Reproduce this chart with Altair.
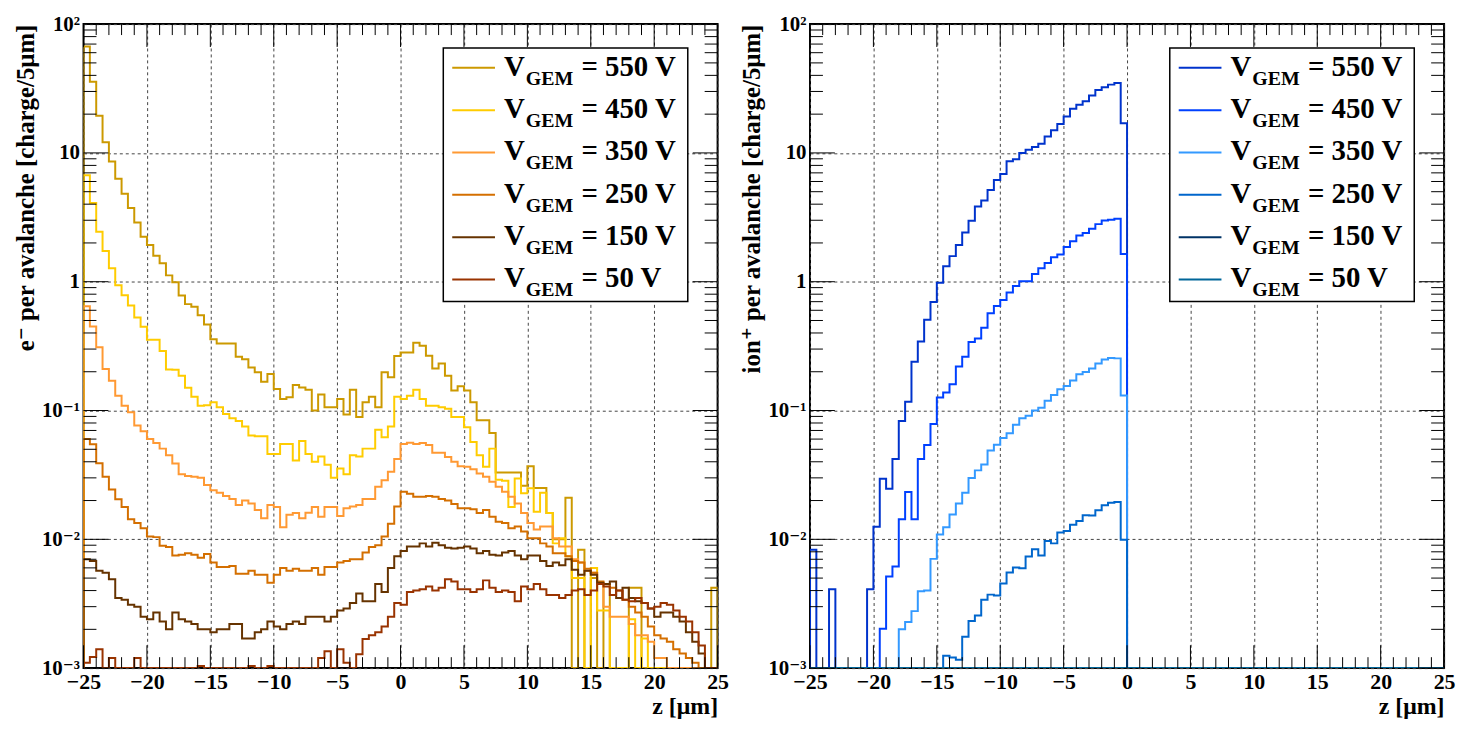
import altair as alt
import pandas as pd

FONT = "Liberation Serif, Times New Roman, DejaVu Serif, serif"
PANEL_W, PANEL_H = 638, 648
FLOOR = 1e-5  # empty bins: clamped to the bottom of the log axis

# ---------------- data ----------------
bin_edges = [-25 + 0.5 * i for i in range(101)]  # 100 bins of 0.5 um
series_labels = ["550 V", "450 V", "350 V", "250 V", "150 V", "50 V"]
electron_colors = ["#cc9900", "#ffcc00", "#ff9933", "#d46f00", "#663300", "#993300"]
ion_colors = ["#0033cc", "#0040ff", "#3399ff", "#0066cc", "#003366", "#006699"]

x_major = [-25, -20, -15, -10, -5, 0, 5, 10, 15, 20, 25]
x_minor = [v for v in range(-25, 26) if v % 5 != 0]
y_decades = [0.001, 0.01, 0.1, 1, 10, 100]
y_decade_labels = ["10⁻³", "10⁻²", "10⁻¹", "1", "10", "10²"]
y_minor = [m * d for d in [0.001, 0.01, 0.1, 1, 10] for m in range(2, 10)]

e_550 = [
    67.0, 35.7, 19.4, 12.1, 8.57, 6.3, 4.82, 3.74, 2.88, 2.23,
    1.93, 1.59, 1.39, 1.12, 0.99, 0.78, 0.67, 0.64, 0.55, 0.466,
    0.357, 0.331, 0.331, 0.331, 0.262, 0.25, 0.216, 0.198, 0.167, 0.192,
    0.147, 0.123, 0.127, 0.158, 0.151, 0.145, 0.10, 0.133, 0.106, 0.106,
    0.123, 0.093, 0.145, 0.089, 0.116, 0.128, 0.106, 0.198, 0.181, 0.265,
    0.282, 0.282, 0.336, 0.318, 0.266, 0.212, 0.232, 0.186, 0.143, 0.154,
    0.143, 0.116, 0.084, 0.084, 0.067, 0.033, 0.033, 0.033, 0.033, 0.026,
    0.037, 0.025, 0.025, 0.016, 0.010, 0.010, 0.021, 0.0, 0.0083, 0.0,
    0.005, 0.0, 0.0045, 0.0, 0.0, 0.0, 0.0042, 0.0042, 0.0, 0.0,
    0.0, 0.0, 0.0, 0.0, 0.0, 0.0, 0.0, 0.0, 0.0, 0.0042,
]
e_450 = [
    6.7, 4.08, 2.44, 1.73, 1.27, 0.94, 0.784, 0.655, 0.528, 0.448,
    0.355, 0.355, 0.29, 0.208, 0.207, 0.186, 0.15, 0.128, 0.109, 0.11,
    0.116, 0.106, 0.094, 0.087, 0.083, 0.075, 0.064, 0.063, 0.063, 0.046,
    0.046, 0.055, 0.055, 0.041, 0.058, 0.046, 0.040, 0.044, 0.038, 0.030,
    0.0355, 0.032, 0.045, 0.044, 0.0506, 0.0506, 0.071, 0.062, 0.075, 0.128,
    0.123, 0.13, 0.145, 0.123, 0.109, 0.109, 0.106, 0.103, 0.089, 0.089,
    0.074, 0.057, 0.045, 0.0366, 0.0506, 0.029, 0.0285, 0.0178, 0.0296, 0.0228,
    0.0249, 0.0164, 0.023, 0.016, 0.0093, 0.0102, 0.0074, 0.005, 0.005, 0.0,
    0.006, 0.0028, 0.0028, 0.0, 0.0, 0.0, 0.0024, 0.0, 0.0017, 0.0,
    0.0, 0.0, 0.0, 0.0, 0.0, 0.0, 0.0, 0.0, 0.0, 0.0,
]
e_350 = [
    0.644, 0.45, 0.31, 0.21, 0.17, 0.13, 0.109, 0.097, 0.0766, 0.069,
    0.060, 0.056, 0.0506, 0.045, 0.0388, 0.032, 0.031, 0.0306, 0.030, 0.0264,
    0.024, 0.023, 0.0217, 0.0206, 0.0185, 0.020, 0.019, 0.0169, 0.0146, 0.0185,
    0.0178, 0.0124, 0.0155, 0.016, 0.0146, 0.0161, 0.0178, 0.015, 0.0178, 0.0178,
    0.0152, 0.0174, 0.018, 0.0185, 0.0206, 0.0206, 0.0256, 0.0288, 0.0334, 0.042,
    0.055, 0.0563, 0.055, 0.056, 0.054, 0.047, 0.047, 0.0436, 0.040, 0.037,
    0.0366, 0.035, 0.0324, 0.0306, 0.028, 0.0256, 0.0234, 0.0214, 0.019, 0.016,
    0.0134, 0.0119, 0.0126, 0.0126, 0.0102, 0.0088, 0.0088, 0.007, 0.0066, 0.0057,
    0.0055, 0.0046, 0.003, 0.0025, 0.0025, 0.0025, 0.0022, 0.0018, 0.0018, 0.0016,
    0.0012, 0.0012, 0.0, 0.0, 0.0, 0.0, 0.0, 0.0, 0.0, 0.0,
]
e_250 = [
    0.060, 0.0547, 0.039, 0.0306, 0.0244, 0.0205, 0.0178, 0.0143, 0.0134, 0.0122,
    0.0105, 0.0104, 0.0089, 0.0087, 0.0075, 0.0076, 0.0078, 0.0076, 0.0072, 0.0077,
    0.0066, 0.0061, 0.0061, 0.0062, 0.0054, 0.0054, 0.0057, 0.0053, 0.0053, 0.0046,
    0.0053, 0.006, 0.0057, 0.0059, 0.0057, 0.0057, 0.006, 0.0053, 0.0061, 0.0061,
    0.0066, 0.0068, 0.007, 0.007, 0.0079, 0.0087, 0.009, 0.0105, 0.0132, 0.018,
    0.0234, 0.0226, 0.0214, 0.0214, 0.0217, 0.0214, 0.0206, 0.020, 0.0188, 0.0174,
    0.0174, 0.0171, 0.016, 0.0169, 0.015, 0.0137, 0.0134, 0.0122, 0.0126, 0.0115,
    0.0102, 0.0102, 0.0093, 0.0088, 0.0078, 0.0078, 0.0074, 0.0068, 0.0066, 0.0059,
    0.0055, 0.0047, 0.0045, 0.0042, 0.004, 0.0034, 0.003, 0.0027, 0.0025, 0.0021,
    0.0018, 0.0017, 0.0016, 0.0014, 0.0013, 0.0012, 0.0011, 0.0, 0.0, 0.0,
]
e_150 = [
    0.0070, 0.0068, 0.0057, 0.0055, 0.0049, 0.0035, 0.0034, 0.0031, 0.003, 0.0025,
    0.0024, 0.0027, 0.0023, 0.0020, 0.0027, 0.0024, 0.0023, 0.0022, 0.0020, 0.0020,
    0.0019, 0.0020, 0.0020, 0.0022, 0.0022, 0.0017, 0.0017, 0.0019, 0.0020, 0.0023,
    0.0021, 0.0020, 0.0022, 0.0023, 0.0022, 0.0025, 0.0025, 0.0025, 0.0023, 0.0025,
    0.0028, 0.0029, 0.0032, 0.0038, 0.0033, 0.0033, 0.0045, 0.0039, 0.006, 0.0074,
    0.0081, 0.0088, 0.0088, 0.0093, 0.0088, 0.0094, 0.009, 0.0086, 0.0085, 0.0086,
    0.0088, 0.0085, 0.0078, 0.0081, 0.0076, 0.0075, 0.0079, 0.0081, 0.0075, 0.007,
    0.0075, 0.0075, 0.0068, 0.0062, 0.0066, 0.0063, 0.007, 0.0058, 0.0053, 0.0057,
    0.0053, 0.0046, 0.0045, 0.0047, 0.0035, 0.0042, 0.0035, 0.0033, 0.0032, 0.0029,
    0.0025, 0.0027, 0.0027, 0.0025, 0.0023, 0.0019, 0.0016, 0.0013, 0.0, 0.0,
]
e_50 = [
    0.0011, 0.00122, 0.0014, 0.0, 0.0012, 0.0, 0.0, 0.0, 0.0012, 0.0,
    0.0, 0.0, 0.0, 0.0, 0.0, 0.0, 0.0, 0.0, 0.00104, 0.0,
    0.0, 0.0, 0.0, 0.0, 0.0, 0.0, 0.00104, 0.0, 0.0, 0.00104,
    0.0, 0.0, 0.0, 0.0, 0.0, 0.0, 0.0, 0.0012, 0.00135, 0.0,
    0.0014, 0.0011, 0.0, 0.00128, 0.00168, 0.0018, 0.0019, 0.0021, 0.0025, 0.0032,
    0.0031, 0.0039, 0.004, 0.0041, 0.0043, 0.004, 0.0042, 0.0049, 0.0047, 0.0041,
    0.0041, 0.0039, 0.0041, 0.0048, 0.0042, 0.0039, 0.004, 0.0039, 0.0033, 0.0043,
    0.0041, 0.0045, 0.0041, 0.0037, 0.0037, 0.0035, 0.0037, 0.004, 0.0041, 0.0037,
    0.004, 0.0045, 0.0043, 0.0037, 0.004, 0.0034, 0.0033, 0.0035, 0.0032, 0.0029,
    0.003, 0.0032, 0.0031, 0.0028, 0.0025, 0.0023, 0.0019, 0.0015, 0.0, 0.0,
]

ion_550 = [
    0.0083, 0.0, 0.0, 0.0041, 0.0, 0.0, 0.0, 0.0, 0.0, 0.0041,
    0.0125, 0.0295, 0.0247, 0.042, 0.083, 0.117, 0.239, 0.343, 0.506, 0.697,
    0.98, 1.32, 1.58, 1.93, 2.41, 2.97, 3.83, 4.27, 5.15, 6.15,
    6.85, 8.62, 8.94, 10.0, 10.6, 11.1, 11.8, 13.4, 15.0, 16.8,
    19.2, 22.0, 23.7, 25.2, 27.9, 30.8, 32.3, 33.9, 34.9, 17.0,
    0.0, 0.0, 0.0, 0.0, 0.0, 0.0, 0.0, 0.0, 0.0, 0.0,
    0.0, 0.0, 0.0, 0.0, 0.0, 0.0, 0.0, 0.0, 0.0, 0.0,
    0.0, 0.0, 0.0, 0.0, 0.0, 0.0, 0.0, 0.0, 0.0, 0.0,
    0.0, 0.0, 0.0, 0.0, 0.0, 0.0, 0.0, 0.0, 0.0, 0.0,
    0.0, 0.0, 0.0, 0.0, 0.0, 0.0, 0.0, 0.0, 0.0, 0.0,
]
ion_450 = [
    0.0, 0.0, 0.0, 0.0, 0.0, 0.0, 0.0, 0.0, 0.0, 0.0,
    0.0, 0.00202, 0.00515, 0.00615, 0.0143, 0.0233, 0.0143, 0.042, 0.054, 0.0785,
    0.126, 0.138, 0.16, 0.22, 0.262, 0.34, 0.363, 0.44, 0.57, 0.649,
    0.722, 0.823, 0.927, 1.01, 1.01, 1.15, 1.27, 1.4, 1.55, 1.63,
    1.86, 2.06, 2.28, 2.39, 2.58, 2.80, 2.99, 3.03, 3.08, 1.64,
    0.0, 0.0, 0.0, 0.0, 0.0, 0.0, 0.0, 0.0, 0.0, 0.0,
    0.0, 0.0, 0.0, 0.0, 0.0, 0.0, 0.0, 0.0, 0.0, 0.0,
    0.0, 0.0, 0.0, 0.0, 0.0, 0.0, 0.0, 0.0, 0.0, 0.0,
    0.0, 0.0, 0.0, 0.0, 0.0, 0.0, 0.0, 0.0, 0.0, 0.0,
    0.0, 0.0, 0.0, 0.0, 0.0, 0.0, 0.0, 0.0, 0.0, 0.0,
]
ion_350 = [
    0.0, 0.0, 0.0, 0.0, 0.0, 0.0, 0.0, 0.0, 0.0, 0.0,
    0.0, 0.0, 0.0, 0.0, 0.002, 0.00228, 0.00277, 0.00395, 0.004, 0.00705,
    0.0109, 0.0124, 0.0156, 0.019, 0.023, 0.0299, 0.0343, 0.0381, 0.0489, 0.0543,
    0.0612, 0.0665, 0.0775, 0.0872, 0.091, 0.1, 0.105, 0.119, 0.132, 0.146,
    0.155, 0.171, 0.191, 0.199, 0.212, 0.232, 0.249, 0.256, 0.254, 0.131,
    0.0, 0.0, 0.0, 0.0, 0.0, 0.0, 0.0, 0.0, 0.0, 0.0,
    0.0, 0.0, 0.0, 0.0, 0.0, 0.0, 0.0, 0.0, 0.0, 0.0,
    0.0, 0.0, 0.0, 0.0, 0.0, 0.0, 0.0, 0.0, 0.0, 0.0,
    0.0, 0.0, 0.0, 0.0, 0.0, 0.0, 0.0, 0.0, 0.0, 0.0,
    0.0, 0.0, 0.0, 0.0, 0.0, 0.0, 0.0, 0.0, 0.0, 0.0,
]
ion_250 = [
    0.0, 0.0, 0.0, 0.0, 0.0, 0.0, 0.0, 0.0, 0.0, 0.0,
    0.0, 0.0, 0.0, 0.0, 0.0, 0.0, 0.0, 0.0, 0.0, 0.0,
    0.0, 0.00125, 0.00121, 0.00116, 0.00175, 0.00232, 0.00256, 0.0034, 0.00372, 0.00367,
    0.00453, 0.00553, 0.00604, 0.00595, 0.00734, 0.00837, 0.0075, 0.0097, 0.0093, 0.0113,
    0.0116, 0.013, 0.0139, 0.0154, 0.0153, 0.0168, 0.0184, 0.0192, 0.0195, 0.00993,
    0.0, 0.0, 0.0, 0.0, 0.0, 0.0, 0.0, 0.0, 0.0, 0.0,
    0.0, 0.0, 0.0, 0.0, 0.0, 0.0, 0.0, 0.0, 0.0, 0.0,
    0.0, 0.0, 0.0, 0.0, 0.0, 0.0, 0.0, 0.0, 0.0, 0.0,
    0.0, 0.0, 0.0, 0.0, 0.0, 0.0, 0.0, 0.0, 0.0, 0.0,
    0.0, 0.0, 0.0, 0.0, 0.0, 0.0, 0.0, 0.0, 0.0, 0.0,
]
ion_150 = [0.0] * 100  # no entries above the axis minimum
ion_50 = [0.0] * 100

electron_series = [e_550, e_450, e_350, e_250, e_150, e_50]
ion_series = [ion_550, ion_450, ion_350, ion_250, ion_150, ion_50]


def step_frame(all_values):
    rows = []
    for label, vals in zip(series_labels, all_values):
        pts = [(bin_edges[0], 0.0)]
        pts += [(bin_edges[k], v) for k, v in enumerate(vals)]
        pts += [(bin_edges[-1], vals[-1]), (bin_edges[-1], 0.0)]
        for i, (z, v) in enumerate(pts):
            rows.append({"series": label, "z": z, "v": v if v > 0 else FLOOR, "i": i})
    return pd.DataFrame(rows)


def label_expr():
    parts = []
    for val, lab in zip(y_decades[:-1], y_decade_labels[:-1]):
        parts.append(f"datum.value < {val * 3} ? '{lab}' : ")
    return "".join(parts) + f"'{y_decade_labels[-1]}'"


AX = dict(
    labelFont=FONT, titleFont=FONT, labelFontWeight="bold", titleFontWeight="bold",
    labelColor="black", titleColor="black", ticks=False, domain=False,
    grid=True, gridColor="#444444", gridDash=[3, 3], gridWidth=1, gridOpacity=1,
    labelOverlap=False, labelFlush=False,
)


def panel(all_values, colors, ytitle):
    x_scale = alt.Scale(domain=[-25, 25], nice=False, zero=False)
    y_scale = alt.Scale(type="log", domain=[1e-3, 1e2], nice=False, clamp=True)
    x_axis = alt.Axis(
        values=x_major, title="z [μm]", titleAnchor="end", titleFontSize=24,
        titlePadding=2, labelFontSize=22, labelPadding=4, format="d", **AX,
    )
    y_axis = alt.Axis(
        values=y_decades, title=ytitle, titleAnchor="end", titleFontSize=25,
        titlePadding=3, labelFontSize=21, labelPadding=4, labelExpr=label_expr(), **AX,
    )

    def X(f):
        return alt.X(f"{f}:Q", scale=x_scale, axis=x_axis)

    def Y(f):
        return alt.Y(f"{f}:Q", scale=y_scale, axis=y_axis)

    color = alt.Color("series:N", scale=alt.Scale(domain=series_labels, range=colors), legend=None)

    lines = alt.Chart(step_frame(all_values)).mark_line(
        interpolate="step-after", strokeWidth=2, clip=True
    ).encode(x=X("z"), y=Y("v"), color=color, order="i:Q")

    xmaj = pd.DataFrame({"z": x_major})
    xmin = pd.DataFrame({"z": x_minor})
    ymaj = pd.DataFrame({"v": y_decades})
    ymin = pd.DataFrame({"v": y_minor})
    tick = dict(color="black", strokeWidth=1)
    ticks = [
        alt.Chart(xmaj).mark_rule(**tick).encode(x=X("z"), y=alt.value(PANEL_H), y2=alt.value(PANEL_H - 23)),
        alt.Chart(xmin).mark_rule(**tick).encode(x=X("z"), y=alt.value(PANEL_H), y2=alt.value(PANEL_H - 11)),
        alt.Chart(xmaj).mark_rule(**tick).encode(x=X("z"), y=alt.value(0), y2=alt.value(23)),
        alt.Chart(xmin).mark_rule(**tick).encode(x=X("z"), y=alt.value(0), y2=alt.value(11)),
        alt.Chart(ymaj).mark_rule(**tick).encode(y=Y("v"), x=alt.value(0), x2=alt.value(25)),
        alt.Chart(ymin).mark_rule(**tick).encode(y=Y("v"), x=alt.value(0), x2=alt.value(13)),
        alt.Chart(ymaj).mark_rule(**tick).encode(y=Y("v"), x=alt.value(PANEL_W), x2=alt.value(PANEL_W - 25)),
        alt.Chart(ymin).mark_rule(**tick).encode(y=Y("v"), x=alt.value(PANEL_W), x2=alt.value(PANEL_W - 13)),
    ]
    main = alt.layer(lines, *ticks)

    leg = pd.DataFrame({
        "series": series_labels,
        "row": list(range(len(series_labels))),
        "eq": ["= " + s for s in series_labels],
    })
    leg_y = alt.Y("row:Q", scale=alt.Scale(domain=[0, 5], range=[44, 257]), axis=None)
    txt = dict(font=FONT, fontWeight="bold", color="black", align="left", baseline="alphabetic")
    box = alt.Chart(pd.DataFrame({"a": [0]})).mark_rect(
        fill="white", stroke="black", strokeWidth=1.5
    ).encode(x=alt.value(362), x2=alt.value(608), y=alt.value(24), y2=alt.value(279))
    samples = alt.Chart(leg).mark_rule(strokeWidth=2).encode(
        x=alt.value(371), x2=alt.value(414), y=leg_y, color=color
    )
    t_v = alt.Chart(leg).mark_text(fontSize=29, dy=8, **txt).encode(
        x=alt.value(423), y=leg_y, text=alt.value("V"))
    t_gem = alt.Chart(leg).mark_text(fontSize=20, dy=17, **txt).encode(
        x=alt.value(445), y=leg_y, text=alt.value("GEM"))
    t_eq = alt.Chart(leg).mark_text(fontSize=29, dy=8, **txt).encode(
        x=alt.value(501), y=leg_y, text="eq:N")
    legend = alt.layer(box, samples, t_v, t_gem, t_eq)

    return alt.layer(main, legend).resolve_scale(y="independent").properties(
        width=PANEL_W, height=PANEL_H
    )


left = panel(electron_series, electron_colors, "e⁻ per avalanche [charge/5μm]")
right = panel(ion_series, ion_colors, "ion⁺ per avalanche [charge/5μm]")

chart = alt.hconcat(
    left, right, spacing=93, bounds="flush",
    padding={"left": 4, "top": 2, "right": 0, "bottom": 0},
    background="white",
).resolve_scale(color="independent").configure_view(
    stroke="black", strokeWidth=2
)

chart.save("out.html", embed_options={"renderer": "svg", "actions": False})
